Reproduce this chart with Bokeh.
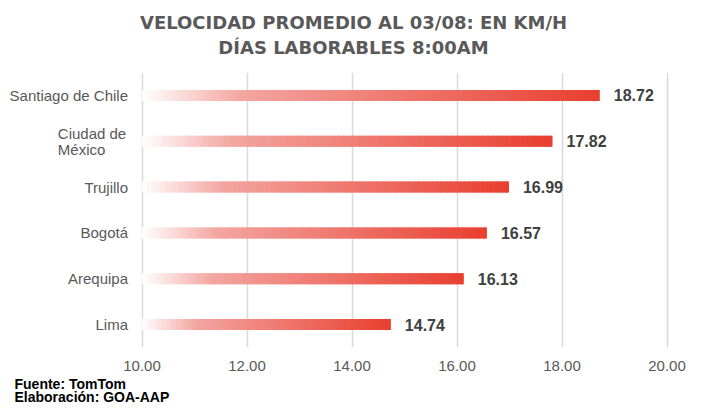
import numpy as np
from bokeh.plotting import figure
from bokeh.models import (ColumnDataSource, LabelSet, Range1d, FactorRange,
                          NumeralTickFormatter, FixedTicker, Title)
from bokeh.core.properties import value
from bokeh.embed import file_html
from bokeh.resources import INLINE

# ---- data ----
cities = ["Santiago de Chile", "Ciudad de México", "Trujillo", "Bogotá", "Arequipa", "Lima"]
city_labels = ["Santiago de Chile", "Ciudad de\nMéxico", "Trujillo", "Bogotá", "Arequipa", "Lima"]
speeds = [18.72, 17.82, 16.99, 16.57, 16.13, 14.74]
x_ticks = [10, 12, 14, 16, 18, 20]
title_lines = ["VELOCIDAD PROMEDIO AL 03/08: EN KM/H", "DÍAS LABORABLES 8:00AM"]
footer_lines = ["Fuente: TomTom", "Elaboración: GOA-AAP"]

x_min, x_max = x_ticks[0], x_ticks[-1]
GREY = "#595959"
FONT = "Liberation Sans"

# layout: frame spans the whole width; the label column lives left of x_min
PX_PER_UNIT = 52.5
LEFT_PX = 141.5
FRAME_W = 706
x_start = x_min - LEFT_PX / PX_PER_UNIT
x_end = x_start + FRAME_W / PX_PER_UNIT

p = figure(frame_width=FRAME_W, frame_height=275,
           x_range=Range1d(x_start, x_end),
           y_range=FactorRange(factors=list(reversed(cities))),
           output_backend="svg", toolbar_location=None,
           min_border_left=0, min_border_right=0,
           min_border_top=72, min_border_bottom=40)
p.outline_line_color = None
p.background_fill_color = "white"
p.border_fill_color = "white"

p.ygrid.visible = False
p.yaxis.visible = False
p.xgrid.grid_line_color = "#D9D9D9"
p.xgrid.grid_line_width = 1.5
p.xaxis.ticker = FixedTicker(ticks=x_ticks)
p.xaxis.formatter = NumeralTickFormatter(format="0.00")
p.xaxis.axis_line_color = None
p.xaxis.major_tick_line_color = None
p.xaxis.minor_tick_line_color = None
p.xaxis.major_tick_out = 0
p.xaxis.major_tick_in = 0
p.xaxis.major_label_standoff = 13
p.xaxis.major_label_text_font = FONT
p.xaxis.major_label_text_font_size = "15px"
p.xaxis.major_label_text_color = GREY
p.xaxis.major_label_text_line_height = 0.45

# ---- gradient bars (white -> light red -> red), built in slices ----
stops = [(0.0, (255, 255, 255)), (0.22, (243, 165, 160)), (1.0, (233, 62, 47))]

def grad(t):
    for (t0, c0), (t1, c1) in zip(stops[:-1], stops[1:]):
        if t <= t1:
            f = (t - t0) / (t1 - t0)
            return "#%02x%02x%02x" % tuple(int(round(a + (b - a) * f)) for a, b in zip(c0, c1))
    return "#%02x%02x%02x" % stops[-1][1]

N = 80
ys, lefts, rights, cols = [], [], [], []
for c, v in zip(cities, speeds):
    L = v - x_min
    for i in range(N):
        t0 = i / N
        t1 = min((i + 1.8) / N, 1.0)
        ys.append(c)
        lefts.append(x_min + L * t0)
        rights.append(x_min + L * t1)
        cols.append(grad((i + 0.5) / N))
p.hbar(y=ys, left=lefts, right=rights, height=0.24, fill_color=cols, line_color=None)

# ---- value labels ----
vsrc = ColumnDataSource(dict(y=cities, x=speeds, t=["%.2f" % v for v in speeds]))
p.add_layout(LabelSet(x="x", y="y", text="t", source=vsrc, x_offset=14,
                      text_baseline="middle", text_align="left",
                      text_font=value(FONT), text_font_style="bold",
                      text_font_size="16px", text_color="#404040"))

# ---- category labels ----
single = [(c, l) for c, l in zip(cities, city_labels) if "\n" not in l]
multi = [(c, l) for c, l in zip(cities, city_labels) if "\n" in l]
ssrc = ColumnDataSource(dict(y=[c for c, _ in single], x=[x_min] * len(single),
                             t=[l for _, l in single]))
p.add_layout(LabelSet(x="x", y="y", text="t", source=ssrc, x_offset=-14,
                      text_baseline="middle", text_align="right",
                      text_font=value(FONT), text_font_size="15px", text_color=GREY))
msrc = ColumnDataSource(dict(y=[c for c, _ in multi], x=[x_min] * len(multi),
                             t=[l for _, l in multi]))
p.add_layout(LabelSet(x="x", y="y", text="t", source=msrc, x_offset=-50,
                      text_baseline="middle", text_align="center",
                      text_line_height=0.95,
                      text_font=value(FONT), text_font_size="15px", text_color=GREY))

# ---- title: spacer nearest the frame, then line 2, then line 1 ----
p.add_layout(Title(text=" ", standoff=11, text_font_size="1px"), "above")
for line in reversed(title_lines):
    p.add_layout(Title(text=line, align="center", standoff=2,
                       text_font="DejaVu Sans", text_font_style="bold",
                       text_font_size="18px", text_color=GREY), "above")

# ---- footer ----
p.add_layout(Title(text="\n".join(footer_lines), align="left", offset=14, standoff=0,
                   text_font=FONT, text_font_style="bold", text_line_height=0.85,
                   text_font_size="14px", text_color="black"), "below")

open("out.html", "w").write(file_html(p, INLINE))
